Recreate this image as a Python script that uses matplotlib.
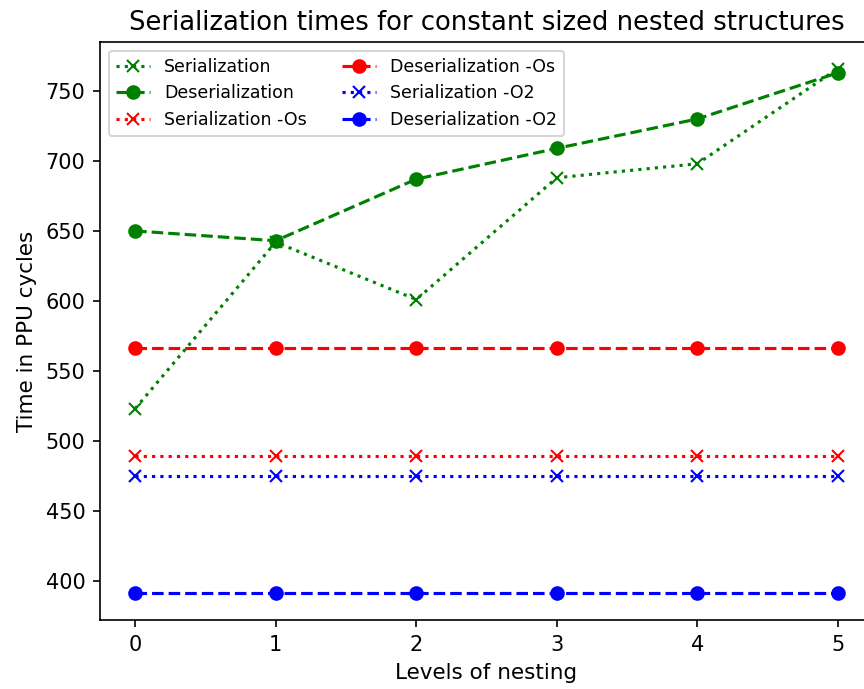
import matplotlib
matplotlib.use("Agg")
import matplotlib.pyplot as plt

levels = [0, 1, 2, 3, 4, 5]
serialization = [523, 642, 601, 688, 698, 766]
deserialization = [650, 643, 687, 709, 730, 763]
serialization_os = [489, 489, 489, 489, 489, 489]
deserialization_os = [566, 566, 566, 566, 566, 566]
serialization_o2 = [475, 475, 475, 475, 475, 475]
deserialization_o2 = [391, 391, 391, 391, 391, 391]

dpi = 150
fig = plt.figure(figsize=(864/dpi, 689/dpi), dpi=dpi)
ax = fig.add_axes([100/864, 1-620/689, 773/864, 578/689])

ax.plot(levels, serialization, color='green', linestyle=':', marker='x', label='Serialization')
ax.plot(levels, deserialization, color='green', linestyle='--', marker='o', label='Deserialization')
ax.plot(levels, serialization_os, color='red', linestyle=':', marker='x', label='Serialization -Os')
ax.plot(levels, deserialization_os, color='red', linestyle='--', marker='o', label='Deserialization -Os')
ax.plot(levels, serialization_o2, color='blue', linestyle=':', marker='x', label='Serialization -O2')
ax.plot(levels, deserialization_o2, color='blue', linestyle='--', marker='o', label='Deserialization -O2')

ax.set_title('Serialization times for constant sized nested structures', fontsize=12.4)
ax.set_xlabel('Levels of nesting', fontsize=10.3)
ax.set_ylabel('Time in PPU cycles', fontsize=10.3)
ax.set_xticks(levels)
ax.set_ylim(372, 785)
ax.set_xlim(-0.25, 5.25)
ax.legend(ncol=2, fontsize='small', loc='upper left')

fig.savefig('out.png', dpi=dpi)
